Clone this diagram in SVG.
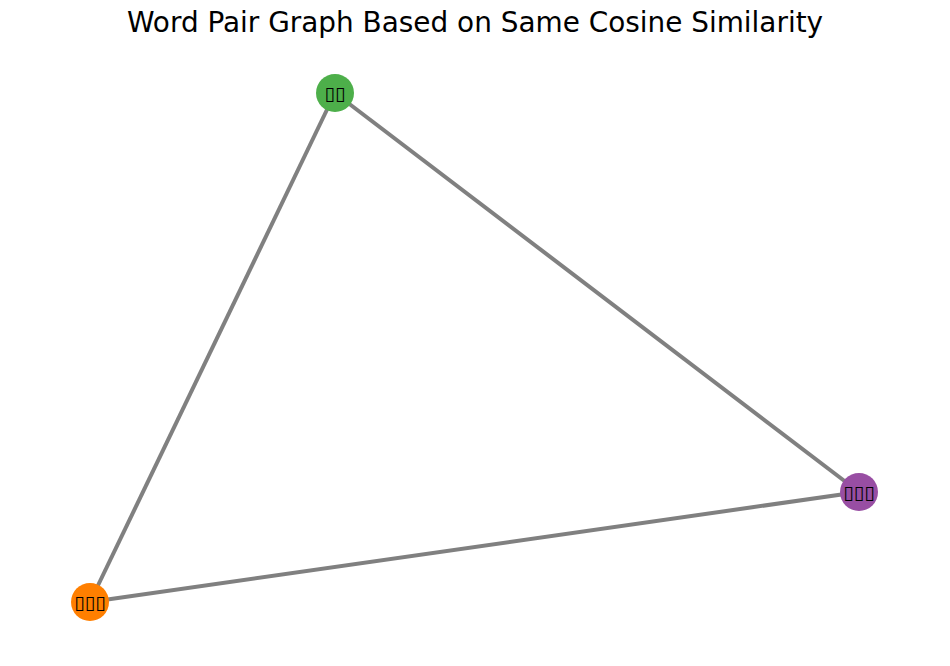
<svg xmlns="http://www.w3.org/2000/svg" width="950" height="666" viewBox="0 0 950 666">
<style>
.title{font-family:"DejaVu Sans","Liberation Sans",sans-serif;font-size:27.9px;fill:#000}
.edge{stroke:#808080;stroke-width:4;fill:none}
.lbl{font-family:"DejaVu Sans","Liberation Sans",sans-serif;font-size:19px;fill:#000;text-anchor:middle;dominant-baseline:central}
</style>
<rect width="950" height="666" fill="#ffffff"/>
<text class="title" x="475" y="32" text-anchor="middle">Word Pair Graph Based on Same Cosine Similarity</text>
<g id="edges">
<line class="edge" x1="335" y1="93" x2="859" y2="492"/>
<line class="edge" x1="335" y1="93" x2="90" y2="602"/>
<line class="edge" x1="90" y1="602" x2="859" y2="492"/>
</g>
<g id="node-green">
<circle cx="335" cy="93" r="19" fill="#4daf4a"/>
<text class="lbl" x="335" y="93">▯▯</text>
</g>
<g id="node-purple">
<circle cx="859" cy="492" r="19" fill="#984ea3"/>
<text class="lbl" x="859" y="492">▯▯▯</text>
</g>
<g id="node-orange">
<circle cx="90" cy="602" r="19" fill="#ff7f00"/>
<text class="lbl" x="90" y="602">▯▯▯</text>
</g>
</svg>
